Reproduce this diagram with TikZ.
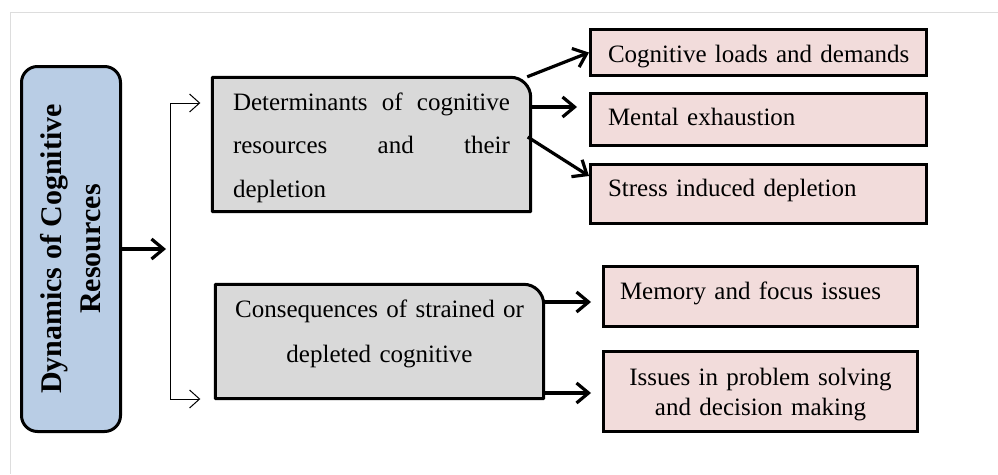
\documentclass[tikz,border=0pt]{standalone}
\usepackage{fontspec}
\setmainfont{Liberation Serif}
\usetikzlibrary{arrows.meta,backgrounds,calc}
\definecolor{bluefill}{HTML}{B9CDE5}
\definecolor{grayfill}{HTML}{D9D9D9}
\definecolor{pinkfill}{HTML}{F2DCDB}
\definecolor{framegray}{HTML}{DDDDDD}
\begin{document}
\begin{tikzpicture}[x=1pt,y=-1pt,
  pinkbox/.style={draw=black, line width=3pt, fill=pinkfill, inner sep=0pt,
    font=\fontsize{25}{30}\selectfont, text height=17pt, text depth=5pt},
  graytext/.style={inner sep=0pt, font=\fontsize{25}{43.5}\selectfont, text height=17pt},
  grayshape/.style={draw=black, line width=3pt, fill=grayfill, line join=round},
  thickarrow/.style={line width=3.2pt, -{Straight Barb[length=12pt,width=20pt]}},
  thinarrow/.style={line width=1pt, -{Straight Barb[length=10pt,width=18pt]}},
]
\useasboundingbox (0,0) rectangle (998,474);
\draw[framegray, line width=1pt] (998,12) -- (10,12) -- (10,474);

% left title box
\node[draw=black, line width=3pt, fill=bluefill, rounded corners=16pt,
      minimum width=99pt, minimum height=365pt, inner sep=0pt] (dyn) at (71,249)
  {\rotatebox{90}{\parbox{340pt}{\centering\fontsize{30}{39}\selectfont\bfseries
   Dynamics of Cognitive\\Resources}}};

% middle gray boxes (text nodes, shapes drawn behind)
\node[graytext, minimum width=318pt, minimum height=134pt, text width=277pt,
      align=justify, text depth=86pt] (det) at (371.5,144.5)
  {Determinants of cognitive\linebreak resources and their\linebreak depletion};
\node[graytext, minimum width=328pt, minimum height=114pt, text width=300pt,
      align=center, text depth=66pt, font=\fontsize{25}{45}\selectfont] (cons) at (379.5,341.5)
  {Consequences of strained or\\depleted cognitive};
\begin{scope}[on background layer]
  \draw[grayshape] (det.south west) -- (det.north west) [rounded corners=20pt]
     -- (det.north east) [sharp corners] -- (det.south east) -- cycle;
  \draw[grayshape] (cons.south west) -- (cons.north west) [rounded corners=20pt]
     -- (cons.north east) [sharp corners] -- (cons.south east) -- cycle;
\end{scope}

% right pink boxes
\node[pinkbox, minimum width=336pt, minimum height=46pt, text width=301pt, align=left] (bA)
  at (758.5,52.5) {\raisebox{-3.5pt}{Cognitive loads and demands}};
\node[pinkbox, minimum width=336pt, minimum height=52pt, text width=301pt, align=left] (bB)
  at (758.5,119.5) {Mental exhaustion};
\node[pinkbox, minimum width=336pt, minimum height=59pt, text width=301pt, align=left] (bC)
  at (758.5,194) {\raisebox{4pt}{Stress induced depletion}};
\node[pinkbox, minimum width=314pt, minimum height=60pt, text width=281pt, align=left] (bD)
  at (760.5,296.5) {\raisebox{3.5pt}{Memory and focus issues}};
\node[pinkbox, minimum width=314pt, minimum height=80pt, text width=281pt, align=center,
      text depth=30pt] (bE)
  at (760.5,391.5) {Issues in problem solving\\and decision making};

% bracket
\coordinate (bt) at (170,103);
\coordinate (bb) at (170,399);
\draw[thickarrow] (dyn.east) -- ($(dyn.east -| bt)+(-4,0)$);
\draw[line width=1pt] (bt) -- (bb);
\draw[thinarrow] (bt) -- ($(bt -| det.west)+(-12,0)$);
\draw[thinarrow] (bb) -- ($(bb -| cons.west)+(-15,0)$);

% right arrows
\draw[thickarrow] ($(det.north east)+(-3.5,-0.5)$) -- (bA.west);
\draw[thickarrow] ($(det.east)+(0,-37.5)$) -- ($(bB.west)+(-12,-12.5)$);
\draw[thickarrow] ($(det.east)+(-3,-7.5)$) -- ($(bC.west)+(0,-18)$);
\draw[thickarrow] ($(cons.east)+(0,-39.5)$) -- ($(bD.west)+(-11,5.5)$);
\draw[thickarrow] ($(cons.east)+(0,51.5)$) -- ($(bE.west)+(-11,1.5)$);
\end{tikzpicture}
\end{document}
